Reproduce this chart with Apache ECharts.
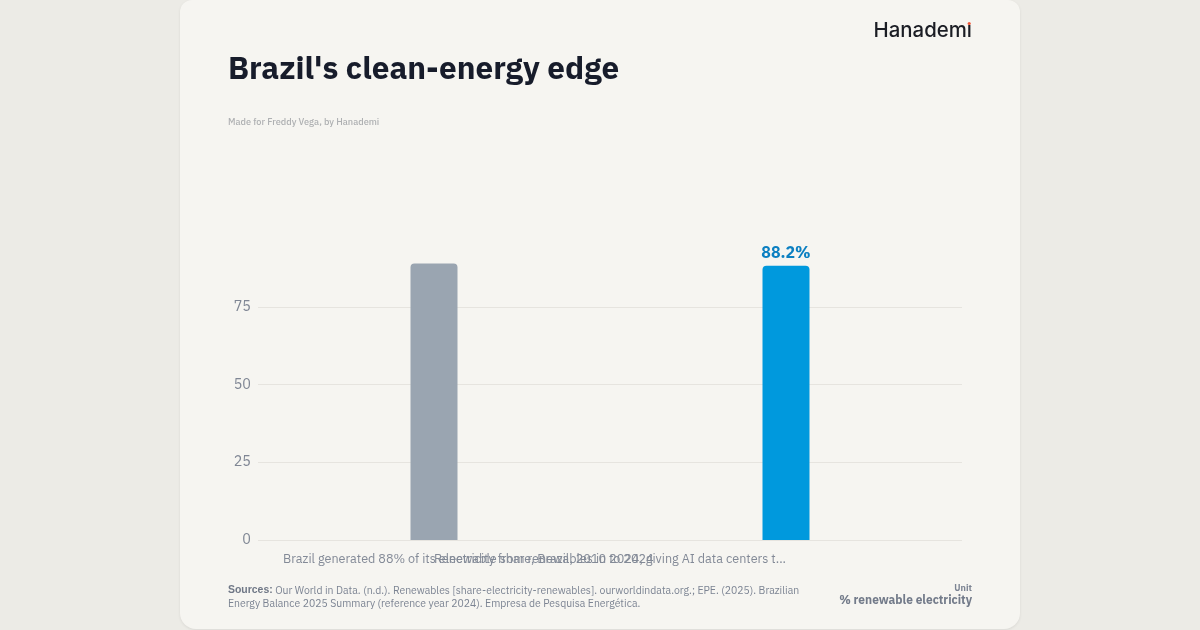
<!DOCTYPE html>
<html>
<head>
<meta charset="utf-8">
<script src="https://cdn.jsdelivr.net/npm/echarts@6/dist/echarts.min.js"></script>
<style>
  html, body { margin: 0; padding: 0; background: #ecebe6; }
  #card {
    position: absolute; left: 180px; top: 0; width: 840px; height: 629px;
    background: #f6f5f1; border-radius: 12px 12px 16px 16px;
    box-shadow: 0 1px 3px rgba(0,0,0,0.08);
  }
  #container { width: 840px; height: 630px; }
</style>
</head>
<body>
<div id="card"><div id="container"></div></div>
<script>
// data
var categories = [
  'Renewable share, Brazil, 2010 to 2024',
  'Brazil generated 88% of its electricity from renewables in 2024, giving AI data centers t...'
];
var values = [88.9, 88.2];
var barColors = ['#9aa5b1', '#0099dd'];
var yTicks = [0, 25, 50, 75];

var font = '"IBM Plex Sans", "Noto Sans", sans-serif';
var dom = document.getElementById('container');
var myChart = echarts.init(dom);

var option = {
  backgroundColor: 'transparent',
  textStyle: { fontFamily: font },
  title: [{
    text: "Brazil's clean-energy edge",
    left: 43, top: 49,
    textStyle: { fontSize: 31.5, fontWeight: 'bold', color: '#171c2b', fontFamily: font }
  }, {
    text: 'Made for Freddy Vega, by Hanademi',
    left: 43, top: 113,
    textStyle: { fontSize: 9.2, fontWeight: 500, color: '#aeb0b2', fontFamily: font }
  }],
  graphic: [{
    type: 'text', right: 48, top: 21,
    style: { text: 'Hanadem\u0131', font: '500 20.4px Inter, "Noto Sans", sans-serif', fill: '#1b1d24' }
  }, {
    type: 'circle', shape: { cx: 789.2, cy: 23.5, r: 1.6 }, style: { fill: '#ef5a3c' }
  }, {
    type: 'text', left: 48, top: 584,
    style: {
      text: '{b|Sources:} Our World in Data. (n.d.). Renewables [share-electricity-renewables]. ourworldindata.org.; EPE. (2025). Brazilian\nEnergy Balance 2025 Summary (reference year 2024). Empresa de Pesquisa Energética.',
      font: '10.45px ' + font, fill: '#7c8493', lineHeight: 13,
      rich: { b: { fontWeight: 'bold', fontSize: 10.45, fill: '#6f7786' } }
    }
  }, {
    type: 'text', right: 48, top: 584,
    style: { text: 'Unit', font: 'bold 9px ' + font, fill: '#7c8493', align: 'right' }
  }, {
    type: 'text', right: 48, top: 595,
    style: { text: '% renewable electricity', font: 'bold 11.9px ' + font, fill: '#737b8a', align: 'right' }
  }],
  grid: { left: 78, right: 58, top: 229, bottom: 90 },
  xAxis: {
    type: 'category',
    data: categories.map(function (c, i) {
      return { value: c, textStyle: { align: i === 0 ? 'left' : 'right' } };
    }),
    axisLine: { show: false },
    axisTick: { show: false },
    axisLabel: { color: '#838a97', fontSize: 12.6, margin: 13, interval: 0 }
  },
  yAxis: {
    type: 'value',
    min: 0, max: 100, interval: 25,
    axisLine: { show: false },
    axisTick: { show: false },
    axisLabel: {
      color: '#7f8694', fontSize: 14.4, margin: 7, showMaxLabel: false,
      formatter: function (v) { return yTicks.indexOf(v) >= 0 ? String(v) : ''; }
    },
    splitLine: { show: true, showMaxLine: false, lineStyle: { color: '#e6e4df', width: 1 } }
  },
  series: [{
    type: 'bar',
    barWidth: 47,
    data: values.map(function (v, i) {
      return {
        value: v,
        itemStyle: { color: barColors[i], borderRadius: [4, 4, 0, 0] },
        label: {
          show: i === 1, position: 'top', distance: 4,
          formatter: '{c}%', color: '#0b7fc1', fontWeight: 'bold', fontSize: 16
        }
      };
    })
  }]
};

myChart.setOption(option, true);
window.onresize = myChart.resize;
</script>
</body>
</html>
